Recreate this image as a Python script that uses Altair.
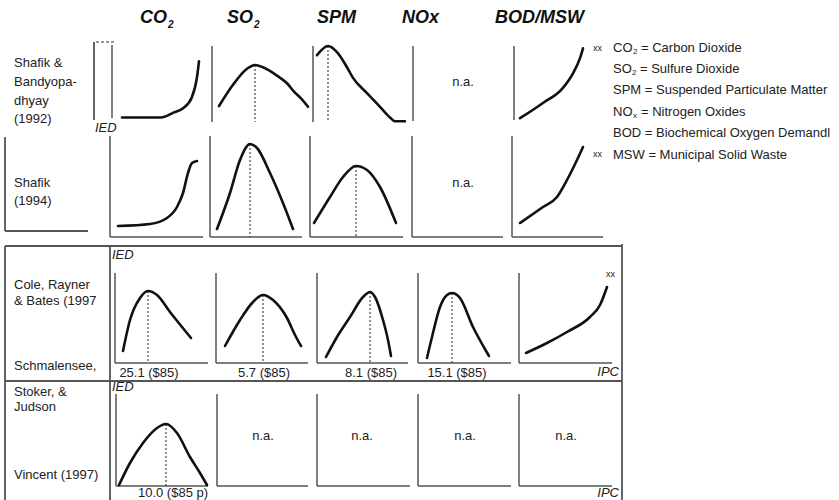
import altair as alt
import pandas as pd

W, H = 839, 500

# ---------------- data: schematic curves (income index 0-100, emission index 0-100)
r1_co2_inc = [10, 49, 61, 71, 80, 85, 87]
r1_co2_em = [6, 6, 12, 18, 33, 59, 80]
r1_so2_inc = [7, 21, 35, 43, 51, 65, 75, 82, 89, 96]
r1_so2_em = [21, 49, 70, 75, 72, 61, 51, 40, 31, 20]
r1_spm_inc = [4, 15, 24, 34, 40, 54, 67, 77, 82, 92]
r1_spm_em = [88, 100, 92, 72, 58, 38, 20, 6, 1, 1]
r1_bod_inc = [6, 29, 49, 59, 66, 69]
r1_bod_em = [5, 25, 45, 64, 84, 97]

r2_co2_inc = [8, 40, 57, 67, 73, 78, 82, 87]
r2_co2_em = [11, 13, 19, 30, 44, 64, 74, 76]
r2_so2_inc = [7, 20, 30, 40, 47, 60, 73, 83]
r2_so2_em = [8, 44, 77, 93, 89, 64, 34, 8]
r2_spm_inc = [4, 20, 33, 46, 57, 70, 86]
r2_spm_em = [14, 40, 60, 71, 67, 50, 14]
r2_bod_inc = [8, 31, 45, 55, 65, 71]
r2_bod_em = [14, 30, 40, 57, 77, 90]

r3_co2_inc = [8, 15, 25, 33, 42, 55, 67, 76]
r3_co2_em = [12, 43, 65, 72, 68, 51, 36, 25]
r3_so2_inc = [9, 24, 37, 47, 57, 71, 79, 85]
r3_so2_em = [17, 43, 61, 68, 63, 45, 28, 17]
r3_spm_inc = [9, 20, 33, 46, 53, 58, 66, 71, 74]
r3_spm_em = [6, 26, 46, 66, 71, 66, 43, 23, 7]
r3_nox_inc = [9, 14, 22, 29, 34, 42, 55, 71]
r3_nox_em = [5, 26, 56, 68, 70, 65, 36, 7]
r3_bod_inc = [7, 28, 48, 71, 81, 88]
r3_bod_em = [10, 20, 31, 46, 58, 76]

r4_co2_inc = [3, 14, 27, 41, 50, 61, 74, 84, 91]
r4_co2_em = [1, 23, 43, 58, 62, 53, 29, 13, 1]

curves = {
    "r1_co2": (r1_co2_inc, r1_co2_em), "r1_so2": (r1_so2_inc, r1_so2_em),
    "r1_spm": (r1_spm_inc, r1_spm_em), "r1_bod": (r1_bod_inc, r1_bod_em),
    "r2_co2": (r2_co2_inc, r2_co2_em), "r2_so2": (r2_so2_inc, r2_so2_em),
    "r2_spm": (r2_spm_inc, r2_spm_em), "r2_bod": (r2_bod_inc, r2_bod_em),
    "r3_co2": (r3_co2_inc, r3_co2_em), "r3_so2": (r3_so2_inc, r3_so2_em),
    "r3_spm": (r3_spm_inc, r3_spm_em), "r3_nox": (r3_nox_inc, r3_nox_em),
    "r3_bod": (r3_bod_inc, r3_bod_em), "r4_co2": (r4_co2_inc, r4_co2_em),
}
# panels with a turning point (dashed line at the peak)
peak_panels = ["r1_so2", "r1_spm", "r2_so2", "r2_spm", "r3_co2", "r3_so2",
               "r3_spm", "r3_nox", "r4_co2"]

headers = ["CO", "SO", "SPM", "NOx", "BOD/MSW"]
header_subs = ["2", "2", "", "", ""]
turning_labels = ["25.1 ($85)", "5.7 ($85)", "8.1 ($85)", "15.1 ($85)", "10.0 ($85 p)"]
legend_main = ["CO", "SO", "SPM = Suspended Particulate Matter", "NO",
               "BOD = Biochemical Oxygen Demandl", "MSW = Municipal Solid Waste"]
legend_subs = ["2", "2", "", "x", "", ""]
legend_rest = ["= Carbon Dioxide", "= Sulfure Dioxide", "", "= Nitrogen Oxides", "", ""]

# ---------------- layout (positions of the panels on the page)
row_axis_x = {
    "r1": [112, 212, 313, 413, 514],
    "r2": [110, 210, 310, 412, 512],
    "r3": [115, 216, 317, 418, 519],
    "r4": [116, 217, 317, 418, 519],
}
row_right_x = {
    "r2": [203, 302, 403, 503, 603],
    "r3": [208, 308, 408, 511, 612],
    "r4": [208, 308, 410, 511, 612],
}
row_top = {"r1": 46, "r2": 136, "r3": 273, "r4": 394}
row_base = {"r1": 122, "r2": 237, "r3": 363, "r4": 486}
row_scale_y = {"r1": 76, "r2": 100, "r3": 100, "r4": 100}
col_keys = ["co2", "so2", "spm", "nox", "bod"]

geom = []
for r in ["r1", "r2", "r3", "r4"]:
    for c, ck in enumerate(col_keys):
        geom.append(dict(panel=f"{r}_{ck}", ax=row_axis_x[r][c], base=row_base[r],
                         sy=row_scale_y[r]))
geom_df = pd.DataFrame(geom)

curve_rows = []
for pid, (inc, em) in curves.items():
    for i, (a, b) in enumerate(zip(inc, em)):
        curve_rows.append(dict(panel=pid, i=i, inc=a, em=b))
curve_df = pd.DataFrame(curve_rows)

peak_rows = []
for pid in peak_panels:
    inc, em = curves[pid]
    k = max(range(len(em)), key=lambda j: em[j])
    peak_rows.append(dict(panel=pid, inc=inc[k], em=em[k]))
peak_df = pd.DataFrame(peak_rows)

# axis lines
vlines = []
for r in ["r1", "r2", "r3", "r4"]:
    for c in range(5):
        top = row_top[r]
        bot = row_base[r]
        if r == "r1":
            bot = [118, 122, 122, 121, 120][c]
            top = [45, 46, 46, 46, 46][c]
        vlines.append(dict(x=row_axis_x[r][c], y=top, y2=bot))
hlines = []
for r in ["r2", "r3", "r4"]:
    for c in range(5):
        hlines.append(dict(x=row_axis_x[r][c], x2=row_right_x[r][c], y=row_base[r]))
vlines_df = pd.DataFrame(vlines)
hlines_df = pd.DataFrame(hlines)

frame_h = pd.DataFrame([dict(x=5, x2=622, y=246), dict(x=5, x2=622, y=381),
                        dict(x=5, x2=88, y=231)])
frame_v = pd.DataFrame([dict(x=5, y=246, y2=500), dict(x=110, y=246, y2=500),
                        dict(x=622, y=244, y2=500), dict(x=5, y=137, y2=231),
                        dict(x=94, y=42, y2=120)])
dash_top = pd.DataFrame([dict(x=96, x2=115, y=42)])

XS = alt.Scale(domain=[0, W])
YS = alt.Scale(domain=[0, H], reverse=True)


def xenc(f):
    return alt.X(f"{f}:Q", scale=XS, axis=None)


def yenc(f):
    return alt.Y(f"{f}:Q", scale=YS, axis=None)


lookup = alt.LookupData(data=geom_df, key="panel", fields=["ax", "base", "sy"])

curve_layer = alt.Chart(curve_df).transform_lookup(
    lookup="panel", from_=lookup
).transform_calculate(
    X="datum.ax + datum.inc", Y="datum.base - datum.em * datum.sy / 100"
).mark_line(color="#111111", strokeWidth=2.6, interpolate="monotone",
            strokeCap="round", strokeJoin="round").encode(
    x=xenc("X"), y=yenc("Y"), detail="panel:N", order="i:Q")

peak_layer = alt.Chart(peak_df).transform_lookup(
    lookup="panel", from_=lookup
).transform_calculate(
    X="datum.ax + datum.inc", Y="datum.base - datum.em * datum.sy / 100",
    Y0="datum.base"
).mark_rule(color="#222222", strokeWidth=1, strokeDash=[2, 2]).encode(
    x=xenc("X"), y=yenc("Y"), y2="Y0:Q")

axis_v = alt.Chart(vlines_df).mark_rule(color="#555555", strokeWidth=1.5).encode(
    x=xenc("x"), y=yenc("y"), y2="y2:Q")
axis_h = alt.Chart(hlines_df).mark_rule(color="#555555", strokeWidth=1.5).encode(
    x=xenc("x"), x2="x2:Q", y=yenc("y"))
frame_hl = alt.Chart(frame_h).mark_rule(color="#555555", strokeWidth=2).encode(
    x=xenc("x"), x2="x2:Q", y=yenc("y"))
frame_vl = alt.Chart(frame_v).mark_rule(color="#555555", strokeWidth=1.8).encode(
    x=xenc("x"), y=yenc("y"), y2="y2:Q")
dash_l = alt.Chart(dash_top).mark_rule(color="#333333", strokeWidth=1.2,
                                       strokeDash=[3, 2]).encode(
    x=xenc("x"), x2="x2:Q", y=yenc("y"))

FONT = "Liberation Sans"


def text_layer(rows, size, color="#222222", style="normal", weight="normal", align="left"):
    df = pd.DataFrame(rows)
    return alt.Chart(df).mark_text(font=FONT, fontSize=size, color=color,
                                   fontStyle=style, fontWeight=weight,
                                   align=align, baseline="middle").encode(
        x=xenc("x"), y=yenc("y"), text="t:N")


# headers
hx = [140, 227, 317, 402, 495]
sub_x = [168, 254]
head_rows = [dict(t=headers[i], x=hx[i], y=18) for i in range(5)]
head_sub_rows = [dict(t=header_subs[i], x=sub_x[i], y=25) for i in range(2)]

# legend
ly = [48, 69, 90, 112, 133, 155]
leg_rows = [dict(t=legend_main[i], x=613, y=ly[i]) for i in range(6)]
leg_sub_x = {0: 633, 1: 632, 3: 633}
leg_sub_rows = [dict(t=legend_subs[i], x=leg_sub_x[i], y=ly[i] + 4) for i in leg_sub_x]
leg_rest_rows = [dict(t=legend_rest[i], x=leg_sub_x[i] + 8, y=ly[i]) for i in leg_sub_x]

# study labels
study_rows = [
    dict(t="Shafik &", x=14, y=63), dict(t="Bandyopa-", x=14, y=82),
    dict(t="dhyay", x=14, y=101), dict(t="(1992)", x=14, y=119),
    dict(t="Shafik", x=14, y=183), dict(t="(1994)", x=14, y=201),
    dict(t="Cole, Rayner", x=14, y=285), dict(t="& Bates (1997", x=14, y=301),
    dict(t="Schmalensee,", x=14, y=366), dict(t="Stoker, &", x=14, y=392),
    dict(t="Judson", x=14, y=407), dict(t="Vincent (1997)", x=14, y=475),
]
tp_rows = [dict(t=turning_labels[0], x=149, y=373), dict(t=turning_labels[1], x=264, y=373),
           dict(t=turning_labels[2], x=371, y=373), dict(t=turning_labels[3], x=457, y=373),
           dict(t=turning_labels[4], x=173, y=493)]
na_rows = [dict(t="n.a.", x=463, y=82), dict(t="n.a.", x=463, y=183),
           dict(t="n.a.", x=263, y=436), dict(t="n.a.", x=362, y=436),
           dict(t="n.a.", x=465, y=436), dict(t="n.a.", x=566, y=436)]
ied_rows = [dict(t="IED", x=95, y=128), dict(t="IED", x=112, y=255),
            dict(t="IED", x=112, y=387)]
ipc_rows = [dict(t="IPC", x=619, y=372), dict(t="IPC", x=619, y=493)]
xx_rows = [dict(t="xx", x=593, y=48), dict(t="xx", x=593, y=154), dict(t="xx", x=606, y=274)]

layers = [
    frame_hl, frame_vl, dash_l, axis_v, axis_h, peak_layer, curve_layer,
    text_layer(head_rows, 18, "#111111", "italic", "bold"),
    text_layer(head_sub_rows, 10, "#111111", "italic", "bold"),
    text_layer(leg_rows, 13),
    text_layer(leg_sub_rows, 8),
    text_layer(leg_rest_rows, 13),
    text_layer(study_rows, 13),
    text_layer(tp_rows, 13, align="center"),
    text_layer(na_rows, 13, align="center"),
    text_layer(ied_rows, 13, style="italic"),
    text_layer(ipc_rows, 13, style="italic", align="right"),
    text_layer(xx_rows, 9),
]

chart = alt.layer(*layers).properties(
    width=W, height=H, autosize=alt.AutoSizeParams(type="none"), padding=0,
    background="white"
).configure_view(strokeWidth=0)

chart.save("out.html", embed_options={"renderer": "svg", "actions": False})
